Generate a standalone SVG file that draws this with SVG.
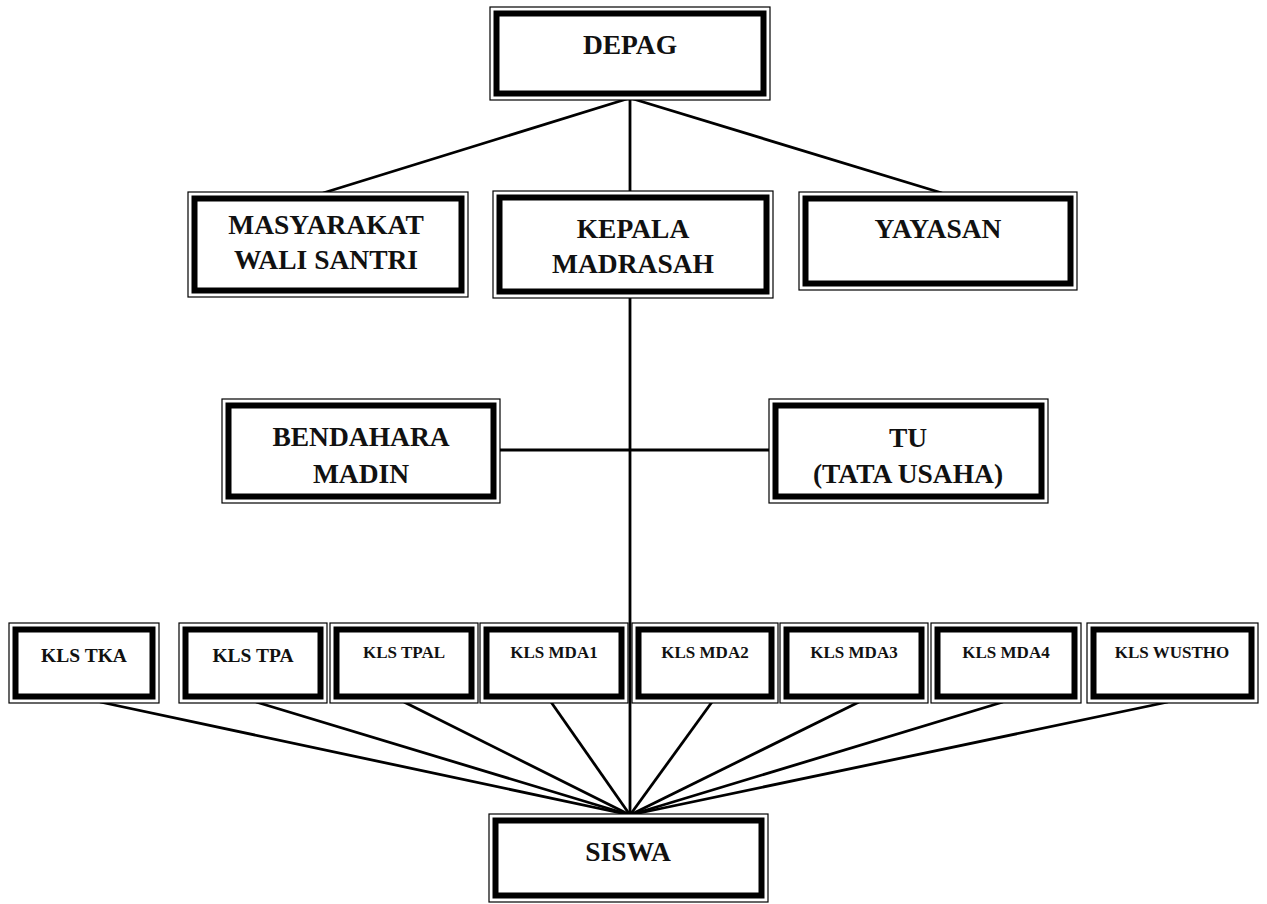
<svg xmlns="http://www.w3.org/2000/svg" width="1267" height="904" viewBox="0 0 1267 904">
<style>
.o{fill:#fff;stroke:#000;stroke-width:1.2}
.t{fill:none;stroke:#000;stroke-width:6}
.c{fill:none;stroke:#000;stroke-width:2.8}
text{font-family:"Liberation Serif","Times New Roman",serif;font-weight:bold;fill:#111;text-anchor:middle}
.l{font-size:27.5px}
.m{font-size:19.5px}
.s{font-size:17px}
</style>
<rect width="1267" height="904" fill="#fff"/>
<g id="connectors">
<line class="c" x1="630" y1="98" x2="630" y2="192"/>
<line class="c" x1="630" y1="98" x2="323" y2="193"/>
<line class="c" x1="630" y1="98" x2="942" y2="193"/>
<line class="c" x1="630" y1="297" x2="630" y2="815"/>
<line class="c" x1="500" y1="450" x2="769" y2="450"/>
<line class="c" x1="100" y1="702" x2="630" y2="815"/>
<line class="c" x1="256" y1="702" x2="630" y2="815"/>
<line class="c" x1="404" y1="702" x2="630" y2="815"/>
<line class="c" x1="551" y1="702" x2="630" y2="815"/>
<line class="c" x1="712" y1="702" x2="630" y2="815"/>
<line class="c" x1="859" y1="702" x2="630" y2="815"/>
<line class="c" x1="1003" y1="702" x2="630" y2="815"/>
<line class="c" x1="1168" y1="702" x2="630" y2="815"/>
</g>
<g id="depag">
<rect class="o" x="490" y="7" width="280" height="93"/>
<rect class="t" x="496.5" y="13.5" width="267" height="80"/>
<text class="l" x="630" y="54">DEPAG</text>
</g>
<g id="masyarakat">
<rect class="o" x="188" y="192" width="280" height="105"/>
<rect class="t" x="194.5" y="198.5" width="267" height="92"/>
<text class="l" x="326" y="234">MASYARAKAT</text>
<text class="l" x="326" y="269">WALI SANTRI</text>
</g>
<g id="kepala">
<rect class="o" x="493" y="191" width="280" height="107"/>
<rect class="t" x="499.5" y="197.5" width="267" height="94"/>
<text class="l" x="633" y="238">KEPALA</text>
<text class="l" x="633" y="273">MADRASAH</text>
</g>
<g id="yayasan">
<rect class="o" x="799" y="192" width="278" height="98"/>
<rect class="t" x="805.5" y="198.5" width="265" height="85"/>
<text class="l" x="938" y="238">YAYASAN</text>
</g>
<g id="bendahara">
<rect class="o" x="222" y="399" width="278" height="104"/>
<rect class="t" x="228.5" y="405.5" width="265" height="91"/>
<text class="l" x="361" y="446">BENDAHARA</text>
<text class="l" x="361" y="483">MADIN</text>
</g>
<g id="tu">
<rect class="o" x="769" y="399" width="279" height="104"/>
<rect class="t" x="775.5" y="405.5" width="266" height="91"/>
<text class="l" x="908" y="447">TU</text>
<text class="l" x="908" y="483">(TATA USAHA)</text>
</g>
<g id="kls-tka">
<rect class="o" x="9" y="623" width="150" height="80"/>
<rect class="t" x="15.5" y="629.5" width="137" height="67"/>
<text class="m" x="84" y="662">KLS TKA</text>
</g>
<g id="kls-tpa">
<rect class="o" x="179" y="623" width="148" height="80"/>
<rect class="t" x="185.5" y="629.5" width="135" height="67"/>
<text class="m" x="253" y="662">KLS TPA</text>
</g>
<g id="kls-tpal">
<rect class="o" x="330" y="623" width="148" height="80"/>
<rect class="t" x="336.5" y="629.5" width="135" height="67"/>
<text class="s" x="404" y="658">KLS TPAL</text>
</g>
<g id="kls-mda1">
<rect class="o" x="480" y="623" width="148" height="80"/>
<rect class="t" x="486.5" y="629.5" width="135" height="67"/>
<text class="s" x="554" y="658">KLS MDA1</text>
</g>
<g id="kls-mda2">
<rect class="o" x="632" y="623" width="146" height="80"/>
<rect class="t" x="638.5" y="629.5" width="133" height="67"/>
<text class="s" x="705" y="658">KLS MDA2</text>
</g>
<g id="kls-mda3">
<rect class="o" x="780" y="623" width="148" height="80"/>
<rect class="t" x="786.5" y="629.5" width="135" height="67"/>
<text class="s" x="854" y="658">KLS MDA3</text>
</g>
<g id="kls-mda4">
<rect class="o" x="931" y="623" width="150" height="80"/>
<rect class="t" x="937.5" y="629.5" width="137" height="67"/>
<text class="s" x="1006" y="658">KLS MDA4</text>
</g>
<g id="kls-wustho">
<rect class="o" x="1087" y="623" width="171" height="80"/>
<rect class="t" x="1093.5" y="629.5" width="158" height="67"/>
<text class="s" x="1172" y="658">KLS WUSTHO</text>
</g>
<g id="siswa">
<rect class="o" x="489" y="814" width="279" height="88"/>
<rect class="t" x="495.5" y="820.5" width="266" height="75"/>
<text class="l" x="628" y="861">SISWA</text>
</g>
</svg>
